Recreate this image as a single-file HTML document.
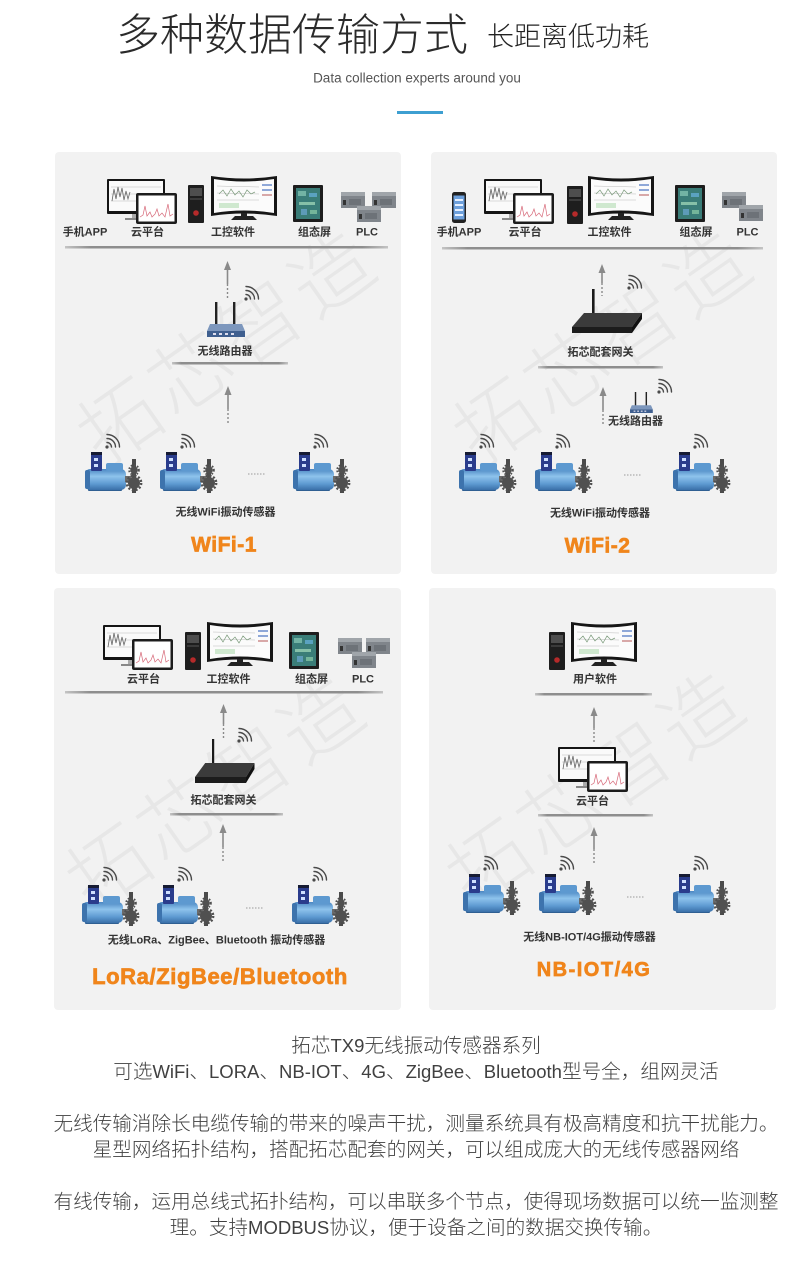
<!DOCTYPE html>
<html><head><meta charset="utf-8">
<style>
*{margin:0;padding:0;box-sizing:border-box}
body{width:800px;height:1262px;position:relative;background:#fff;overflow:hidden;font-family:"Liberation Sans","Noto Sans CJK SC",sans-serif}
.p{position:absolute;background:#f2f2f2;border-radius:4px;overflow:hidden}
.wm{position:absolute;left:170px;top:190px;transform:translate(-50%,-50%) rotate(-35deg);font-size:80px;letter-spacing:6px;color:rgba(0,0,0,0.045);white-space:nowrap;font-family:"Noto Sans CJK SC",sans-serif;font-weight:300}
.t{position:absolute;transform:translate(-50%,-50%);white-space:nowrap;line-height:1}
.lb{font-size:11px;font-weight:bold;color:#333;font-family:"Liberation Sans","Noto Sans CJK SC",sans-serif}
.og{font-weight:bold;color:#f0851b;-webkit-text-stroke:0.7px #f0851b;font-family:"Liberation Sans",sans-serif}
.bt{position:absolute;left:0;width:832px;text-align:center;font-size:19.6px;line-height:26px;color:#404040;white-space:nowrap;font-family:"Liberation Sans","Noto Sans CJK SC",sans-serif;font-weight:300}
.bt span{font-size:18.5px}
</style></head><body>

<!-- header -->
<div style="position:absolute;left:116px;top:13.5px;font-size:44px;line-height:44px;color:#2a2a2a;font-weight:300;white-space:nowrap;font-family:'Liberation Sans','Noto Sans CJK SC',sans-serif">多种数据传输方式</div>
<div style="position:absolute;left:487px;top:24px;font-size:27px;line-height:27px;color:#222;font-weight:300;white-space:nowrap;font-family:'Liberation Sans','Noto Sans CJK SC',sans-serif">长距离低功耗</div>
<div class="t" style="left:417px;top:78px;font-size:13.5px;color:#555;font-family:'Liberation Sans',sans-serif">Data collection experts around you</div>
<div style="position:absolute;left:397px;top:111px;width:46px;height:3px;background:#3d9fd1"></div>

<!-- panels -->
<div class="p" style="left:55px;top:152px;width:346px;height:422px"><div class="wm">拓芯智造</div></div>
<div class="p" style="left:431px;top:152px;width:346px;height:422px"><div class="wm">拓芯智造</div></div>
<div class="p" style="left:54px;top:588px;width:347px;height:422px"><div class="wm" style="left:160px;top:200px">拓芯智造</div></div>
<div class="p" style="left:429px;top:588px;width:347px;height:422px"><div class="wm" style="left:165px;top:195px">拓芯智造</div></div>

<svg width="800" height="1262" style="position:absolute;left:0;top:0" xmlns="http://www.w3.org/2000/svg">
<defs>
 <linearGradient id="mg" x1="0" y1="0" x2="0" y2="1">
  <stop offset="0" stop-color="#4a86c2"/>
  <stop offset="0.35" stop-color="#8ec3ec"/>
  <stop offset="0.7" stop-color="#5f9bd2"/>
  <stop offset="1" stop-color="#3a6fa8"/>
 </linearGradient>
 <linearGradient id="lg" x1="0" y1="0" x2="1" y2="0">
  <stop offset="0" stop-color="#c4c4c4"/>
  <stop offset="0.08" stop-color="#8e8e8e"/>
  <stop offset="0.92" stop-color="#8e8e8e"/>
  <stop offset="1" stop-color="#c4c4c4"/>
 </linearGradient>
 <g id="wifi" fill="none" stroke="#4a4a4a" stroke-width="1.4" stroke-linecap="round">
  <circle cx="0" cy="0" r="1.6" fill="#4a4a4a" stroke="none"/>
  <path d="M0,-4.5 A4.5,4.5 0 0 1 4.5,0"/>
  <path d="M0,-8.5 A8.5,8.5 0 0 1 8.5,0"/>
  <path d="M0,-12.5 A12.5,12.5 0 0 1 12.5,0"/>
 </g>
 <g id="motor">
  <rect x="3" y="35" width="34" height="4" rx="1" fill="#2f5f92"/>
  <rect x="0" y="17" width="41" height="21" rx="5" fill="url(#mg)"/>
  <rect x="0" y="18" width="5" height="19" rx="2" fill="#3d73ad"/>
  <rect x="21" y="11" width="17" height="8" rx="2" fill="#5d99d0"/>
  <rect x="40" y="24" width="6" height="6" fill="#6a6a6a"/>
  <rect x="6" y="0" width="11" height="19" rx="1" fill="#2a3c8c"/>
  <rect x="6" y="0" width="11" height="3" fill="#161b33"/>
  <rect x="9" y="6" width="4" height="3" fill="#cfe0ff"/>
  <rect x="9" y="12" width="4" height="3" fill="#cfe0ff"/>
  <rect x="47" y="7" width="4" height="34" fill="#4b4b4b"/>
  <circle cx="49" cy="31" r="6" fill="#505050"/>
  <circle cx="49" cy="31" r="7.2" fill="none" stroke="#505050" stroke-width="2.4" stroke-dasharray="2 1.8"/>
  <circle cx="49" cy="18" r="3.8" fill="#505050"/>
  <circle cx="49" cy="18" r="4.8" fill="none" stroke="#505050" stroke-width="2" stroke-dasharray="1.6 1.6"/>
  <use href="#wifi" x="22" y="-5"/>
 </g>
 <g id="cloud">
  <rect x="0" y="0" width="58" height="35" rx="1" fill="#151515"/>
  <rect x="2" y="2" width="54" height="30" fill="#fafafa"/>
  <g stroke="#bbb" stroke-width="0.5"><line x1="4" y1="8" x2="54" y2="8"/><line x1="4" y1="15" x2="54" y2="15"/><line x1="4" y1="22" x2="54" y2="22"/></g>
  <polyline points="5,22 7,10 9,20 11,8 13,18 15,9 17,21 19,12 21,20 23,13" stroke="#666" fill="none" stroke-width="0.8"/>
  <rect x="25" y="35" width="8" height="4" fill="#aaa"/>
  <rect x="18" y="39" width="22" height="2" fill="#888"/>
  <rect x="29" y="14" width="41" height="31" rx="2" fill="#1c1c1c"/>
  <rect x="31.5" y="16.5" width="36" height="26" fill="#fff"/>
  <polyline points="33,38 36,36 38,27 40,37 43,33 45,38 48,35 50,30 52,37 55,34 58,38 61,25 63,37 66,35" stroke="#d76a7a" fill="none" stroke-width="0.7"/>
 </g>
 <g id="tower">
  <rect width="16" height="38" rx="1" fill="#1e1e1e"/>
  <rect x="2" y="3" width="12" height="8" fill="#4e4e4e"/>
  <rect x="2" y="13" width="12" height="2" fill="#3a3a3a"/>
  <circle cx="8" cy="28" r="2.8" fill="#b52a2a"/>
 </g>
 <g id="curved">
  <path d="M0,0 Q33,5 66,0 L66,40 Q33,35 0,40 Z" fill="#161616"/>
  <path d="M3,3 Q33,8 63,3 L63,37 Q33,32 3,37 Z" fill="#fbfbfb"/>
  <g stroke="#bbb" stroke-width="0.5"><line x1="6" y1="10" x2="48" y2="11"/><line x1="6" y1="17" x2="48" y2="18"/><line x1="6" y1="24" x2="48" y2="24"/></g>
  <polyline points="8,18 12,14 16,20 20,13 24,19 28,15 32,21 36,14 40,18 44,16" stroke="#7a9a7a" fill="none" stroke-width="0.7"/>
  <rect x="8" y="27" width="20" height="5" fill="#cfe8cf"/>
  <rect x="51" y="8" width="10" height="2" fill="#8fa8d8"/>
  <rect x="51" y="13" width="10" height="2" fill="#8fa8d8"/>
  <rect x="51" y="18" width="10" height="2" fill="#d8a8a8"/>
  <rect x="30" y="37" width="6" height="4" fill="#222"/>
  <path d="M20,44 L46,44 L42,40 L24,40 Z" fill="#222"/>
 </g>
 <g id="hmi">
  <rect width="30" height="37" rx="1" fill="#1d1d1d"/>
  <rect x="3" y="3" width="24" height="31" fill="#3a7d78"/>
  <rect x="5" y="6" width="8" height="5" fill="#72b3a4"/>
  <rect x="16" y="8" width="8" height="4" fill="#5aa2c0"/>
  <rect x="6" y="17" width="16" height="3" fill="#86c0a8"/>
  <rect x="8" y="24" width="6" height="6" fill="#5d9bb8"/>
  <rect x="17" y="25" width="7" height="4" fill="#74b59a"/>
 </g>
 <g id="plc">
  <rect width="24" height="16" fill="#80858b"/>
  <rect width="24" height="4" fill="#a0a5aa"/>
  <rect x="2" y="8" width="3" height="5" fill="#333"/>
  <rect x="8" y="7" width="12" height="6" fill="#6d7278"/>
 </g>
 <g id="router">
  <rect x="8" y="0" width="2.4" height="23" fill="#222"/>
  <rect x="26" y="0" width="2.4" height="23" fill="#222"/>
  <path d="M3,22 L35,22 L38,29 L0,29 Z" fill="#7d97bd"/>
  <path d="M0,29 L38,29 L38,35 L0,35 Z" fill="#3f5f8f"/>
  <rect x="6" y="31" width="3" height="2" fill="#dde"/>
  <rect x="12" y="31" width="3" height="2" fill="#dde"/>
  <rect x="18" y="31" width="3" height="2" fill="#dde"/>
  <rect x="24" y="31" width="3" height="2" fill="#dde"/>
 </g>
 <g id="gw">
  <rect x="20" y="0" width="2.6" height="30" fill="#1a1a1a"/>
  <polygon points="12,24 70,24 60,38 0,38" fill="#3b3b3b"/>
  <polygon points="0,38 60,38 60,44 0,44" fill="#1c1c1c"/>
  <polygon points="60,38 70,24 70,30 60,44" fill="#111"/>
 </g>
 <g id="phone">
  <rect width="14" height="31" rx="2.5" fill="#222"/>
  <rect x="1.5" y="3.5" width="11" height="24" fill="#6da0dc"/>
  <rect x="3" y="7" width="8" height="2" fill="#e6f0ff"/>
  <rect x="3" y="12" width="8" height="2" fill="#e6f0ff"/>
  <rect x="3" y="17" width="8" height="2" fill="#e6f0ff"/>
  <rect x="3" y="22" width="8" height="2" fill="#e6f0ff"/>
 </g>
</defs>

<!-- Panel 1 -->
<use href="#cloud" x="107" y="179"/>
<use href="#tower" x="188" y="185"/>
<use href="#curved" x="211" y="176"/>
<use href="#hmi" x="293" y="185"/>
<use href="#plc" x="341" y="192"/><use href="#plc" x="372" y="192"/><use href="#plc" x="357" y="206"/>
<rect x="65" y="246" width="323" height="2.5" fill="url(#lg)"/>
<rect x="172" y="362" width="116" height="2.5" fill="url(#lg)"/>
<use href="#router" x="207" y="302"/>
<use href="#wifi" x="246" y="299"/>
<use href="#motor" x="85" y="452"/><use href="#motor" x="160" y="452"/><use href="#motor" x="293" y="452"/>
<line x1="248" y1="474" x2="266" y2="474" stroke="#999" stroke-width="1" stroke-dasharray="1.5 1.5"/>

<!-- Panel 2 -->
<use href="#phone" x="452" y="192"/>
<use href="#cloud" x="484" y="179"/>
<use href="#tower" x="567" y="186"/>
<use href="#curved" x="588" y="176"/>
<use href="#hmi" x="675" y="185"/>
<use href="#plc" x="722" y="192"/><use href="#plc" x="739" y="205"/>
<rect x="442" y="247" width="321" height="2.5" fill="url(#lg)"/>
<rect x="538" y="366" width="125" height="2.5" fill="url(#lg)"/>
<use href="#gw" x="572" y="289"/>
<use href="#wifi" x="629" y="288"/>
<g transform="translate(630,392) scale(0.6)"><use href="#router"/></g>
<use href="#wifi" x="659" y="392"/>
<use href="#motor" x="459" y="452"/><use href="#motor" x="535" y="452"/><use href="#motor" x="673" y="452"/>
<line x1="624" y1="475" x2="641" y2="475" stroke="#999" stroke-width="1" stroke-dasharray="1.5 1.5"/>

<!-- Panel 3 -->
<use href="#cloud" x="103" y="625"/>
<use href="#tower" x="185" y="632"/>
<use href="#curved" x="207" y="622"/>
<use href="#hmi" x="289" y="632"/>
<use href="#plc" x="338" y="638"/><use href="#plc" x="366" y="638"/><use href="#plc" x="352" y="652"/>
<rect x="65" y="691" width="318" height="2.5" fill="url(#lg)"/>
<rect x="170" y="813" width="113" height="2.5" fill="url(#lg)"/>
<g transform="translate(195,739) scale(0.85,1)"><use href="#gw"/></g>
<use href="#wifi" x="239" y="741"/>
<use href="#motor" x="82" y="885"/><use href="#motor" x="157" y="885"/><use href="#motor" x="292" y="885"/>
<line x1="246" y1="908" x2="264" y2="908" stroke="#999" stroke-width="1" stroke-dasharray="1.5 1.5"/>

<!-- Panel 4 -->
<use href="#tower" x="549" y="632"/>
<use href="#curved" x="571" y="622"/>
<rect x="535" y="693" width="117" height="2.5" fill="url(#lg)"/>
<use href="#cloud" x="558" y="747"/>
<rect x="538" y="814" width="115" height="2.5" fill="url(#lg)"/>
<use href="#motor" x="463" y="874"/><use href="#motor" x="539" y="874"/><use href="#motor" x="673" y="874"/>
<line x1="627" y1="897" x2="645" y2="897" stroke="#999" stroke-width="1" stroke-dasharray="1.5 1.5"/>

<!-- arrows -->
<g fill="#8a8a8a" stroke="#8a8a8a">
 <g><polygon points="224,270 227.5,261 231,270" stroke="none"/><line x1="227.5" y1="268" x2="227.5" y2="284" stroke-width="1.6"/><line x1="227.5" y1="284" x2="227.5" y2="299" stroke-width="1.4" stroke-dasharray="2 2"/></g>
 <g><polygon points="224.5,395 228,386 231.5,395" stroke="none"/><line x1="228" y1="393" x2="228" y2="409" stroke-width="1.6"/><line x1="228" y1="409" x2="228" y2="424" stroke-width="1.4" stroke-dasharray="2 2"/></g>
 <g><polygon points="598.5,273 602,264 605.5,273" stroke="none"/><line x1="602" y1="271" x2="602" y2="283" stroke-width="1.6"/><line x1="602" y1="283" x2="602" y2="296" stroke-width="1.4" stroke-dasharray="2 2"/></g>
 <g><polygon points="599.5,396 603,387 606.5,396" stroke="none"/><line x1="603" y1="394" x2="603" y2="410" stroke-width="1.6"/><line x1="603" y1="410" x2="603" y2="426" stroke-width="1.4" stroke-dasharray="2 2"/></g>
 <g><polygon points="220,713 223.5,704 227,713" stroke="none"/><line x1="223.5" y1="711" x2="223.5" y2="724" stroke-width="1.6"/><line x1="223.5" y1="724" x2="223.5" y2="739" stroke-width="1.4" stroke-dasharray="2 2"/></g>
 <g><polygon points="219.5,833 223,824 226.5,833" stroke="none"/><line x1="223" y1="831" x2="223" y2="847" stroke-width="1.6"/><line x1="223" y1="847" x2="223" y2="863" stroke-width="1.4" stroke-dasharray="2 2"/></g>
 <g><polygon points="590.5,716 594,707 597.5,716" stroke="none"/><line x1="594" y1="714" x2="594" y2="728" stroke-width="1.6"/><line x1="594" y1="728" x2="594" y2="743" stroke-width="1.4" stroke-dasharray="2 2"/></g>
 <g><polygon points="590.5,836 594,827 597.5,836" stroke="none"/><line x1="594" y1="834" x2="594" y2="849" stroke-width="1.6"/><line x1="594" y1="849" x2="594" y2="864" stroke-width="1.4" stroke-dasharray="2 2"/></g>
</g>
</svg>

<!-- Panel 1 labels -->
<div class="t lb" style="left:85px;top:233px">手机APP</div>
<div class="t lb" style="left:147.5px;top:233px">云平台</div>
<div class="t lb" style="left:233px;top:233px">工控软件</div>
<div class="t lb" style="left:314.5px;top:233px">组态屏</div>
<div class="t lb" style="left:367px;top:233px">PLC</div>
<div class="t lb" style="left:225px;top:352px">无线路由器</div>
<div class="t lb" style="left:225.5px;top:513px">无线WiFi振动传感器</div>
<div class="t og" style="left:224px;top:545px;font-size:21px;letter-spacing:0.5px">WiFi-1</div>

<!-- Panel 2 labels -->
<div class="t lb" style="left:459px;top:233px">手机APP</div>
<div class="t lb" style="left:525px;top:233px">云平台</div>
<div class="t lb" style="left:609.5px;top:233px">工控软件</div>
<div class="t lb" style="left:696px;top:233px">组态屏</div>
<div class="t lb" style="left:747.5px;top:233px">PLC</div>
<div class="t lb" style="left:600.5px;top:353px">拓芯配套网关</div>
<div class="t lb" style="left:635.5px;top:422px">无线路由器</div>
<div class="t lb" style="left:600px;top:514px">无线WiFi振动传感器</div>
<div class="t og" style="left:597.5px;top:546px;font-size:21px;letter-spacing:0.5px">WiFi-2</div>

<!-- Panel 3 labels -->
<div class="t lb" style="left:143.5px;top:680px">云平台</div>
<div class="t lb" style="left:228.5px;top:680px">工控软件</div>
<div class="t lb" style="left:311.5px;top:680px">组态屏</div>
<div class="t lb" style="left:363px;top:680px">PLC</div>
<div class="t lb" style="left:223.5px;top:801px">拓芯配套网关</div>
<div class="t lb" style="left:216.5px;top:941px">无线LoRa、ZigBee、Bluetooth 振动传感器</div>
<div class="t og" style="left:220px;top:977px;font-size:22px;letter-spacing:0.6px">LoRa/ZigBee/Bluetooth</div>

<!-- Panel 4 labels -->
<div class="t lb" style="left:595px;top:680px">用户软件</div>
<div class="t lb" style="left:592.5px;top:802px">云平台</div>
<div class="t lb" style="left:589.5px;top:938px">无线NB-IOT/4G振动传感器</div>
<div class="t og" style="left:594px;top:970px;font-size:20px;letter-spacing:1.5px">NB-IOT/4G</div>

<!-- bottom text -->
<div class="bt" style="top:1033px">拓芯<span>TX9</span>无线振动传感器系列</div>
<div class="bt" style="top:1059px">可选<span>WiFi</span>、<span>LORA</span>、<span>NB-IOT</span>、<span>4G</span>、<span>ZigBee</span>、<span>Bluetooth</span>型号全，组网灵活</div>
<div class="bt" style="top:1111px">无线传输消除长电缆传输的带来的噪声干扰，测量系统具有极高精度和抗干扰能力。</div>
<div class="bt" style="top:1137px">星型网络拓扑结构，搭配拓芯配套的网关，可以组成庞大的无线传感器网络</div>
<div class="bt" style="top:1189px">有线传输，运用总线式拓扑结构，可以串联多个节点，使得现场数据可以统一监测整</div>
<div class="bt" style="top:1215px">理。支持<span>MODBUS</span>协议，便于设备之间的数据交换传输。</div>

</body></html>
